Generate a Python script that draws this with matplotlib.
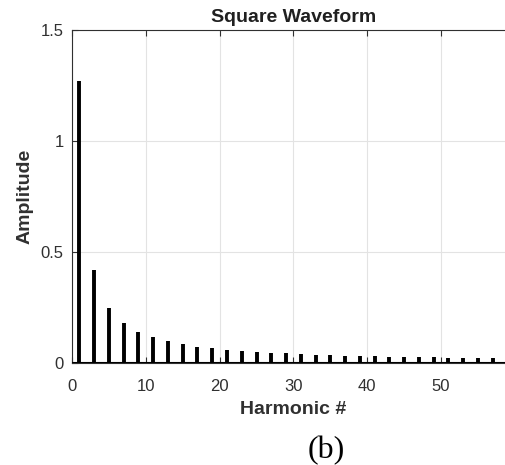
import matplotlib
matplotlib.use("Agg")
import matplotlib.pyplot as plt

# harmonic numbers and amplitudes
harmonic = [1, 3, 5, 7, 9, 11, 13, 15, 17, 19, 21, 23, 25, 27, 29,
            31, 33, 35, 37, 39, 41, 43, 45, 47, 49, 51, 53, 55, 57]
amplitude = [1.27, 0.42, 0.25, 0.18, 0.14, 0.116, 0.098, 0.085, 0.075, 0.067,
             0.061, 0.055, 0.051, 0.047, 0.044, 0.041, 0.039, 0.036, 0.034,
             0.033, 0.031, 0.030, 0.028, 0.027, 0.026, 0.025, 0.024, 0.023, 0.022]
x_ticks = [0, 10, 20, 30, 40, 50]
y_ticks = [0, 0.5, 1, 1.5]
y_tick_labels = ["0", "0.5", "1", "1.5"]

plt.rcParams['font.family'] = ['Liberation Sans', 'DejaVu Sans']
grey = '#303030'

fig = plt.figure(figsize=(5.05, 4.65), dpi=100)
ax = fig.add_axes([0.1426, 0.219, 0.877, 0.716])

ax.vlines(harmonic, 0, amplitude, color='black', linewidth=2.8, zorder=3)

ax.set_xlim(0, 60)
ax.set_ylim(0, 1.5)
ax.set_xticks(x_ticks)
ax.set_yticks(y_ticks)
ax.set_yticklabels(y_tick_labels)
ax.grid(True, color='#e3e3e3', linewidth=0.8)
ax.set_axisbelow(True)
ax.tick_params(direction='in', top=True, right=True, colors=grey,
               labelsize=12, length=4, width=0.8, pad=6)
ax.tick_params(axis='x', pad=11.5)
for s in ax.spines.values():
    s.set_color(grey)
    s.set_linewidth(0.8)
ax.axhline(0, color='black', linewidth=1.5, zorder=4)

ax.set_title("Square Waveform", fontsize=14, fontweight='bold', pad=6, color='#202020')
ax.set_xlabel("Harmonic #", fontsize=14, fontweight='bold', color=grey, labelpad=5)
ax.set_ylabel("Amplitude", fontsize=14, fontweight='bold', color=grey, labelpad=5)

fig.text(0.646, 0.015, "(b)", fontsize=23, family='Liberation Serif', ha='center')

fig.savefig("out.png", dpi=100)
